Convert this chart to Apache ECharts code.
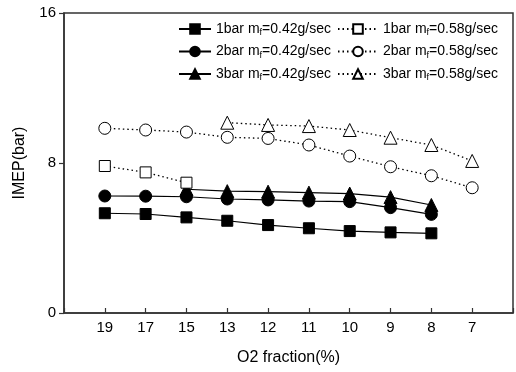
<!DOCTYPE html>
<html lang="en">
<head>
    <meta charset="UTF-8">
    <title>IMEP vs O2 fraction</title>
    <script src="https://cdn.jsdelivr.net/npm/echarts@6/dist/echarts.min.js"></script>
</head>
<body style="margin:0">

<div id="main" style="width: 516px;height:372px;"></div>

</body>
<script>
    // x categories (O2 fraction, %)
    var o2Labels = ['19', '17', '15', '13', '12', '11', '10', '9', '8', '7'];
    var yTicks = [0, 8, 16];

    // m_f = 0.42 g/sec (solid lines, filled markers)
    var bar1Low = [5.32, 5.28, 5.1, 4.92, 4.69, 4.52, 4.37, 4.3, 4.25, null];
    var bar2Low = [6.24, 6.23, 6.2, 6.08, 6.03, 5.97, 5.94, 5.62, 5.26, null];
    var bar3Low = [null, null, 6.6, 6.5, 6.47, 6.42, 6.37, 6.18, 5.76, null];

    // m_f = 0.58 g/sec (dotted lines, open markers)
    var bar1High = [7.84, 7.5, 6.95, null, null, null, null, null, null, null];
    var bar2High = [9.85, 9.76, 9.65, 9.37, 9.31, 8.96, 8.37, 7.8, 7.32, 6.68];
    var bar3High = [null, null, null, 10.15, 10.03, 9.97, 9.76, 9.35, 8.96, 8.11];

    var names = [
        '1bar m{s|f}=0.42g/sec', '2bar m{s|f}=0.42g/sec', '3bar m{s|f}=0.42g/sec',
        '1bar m{s|f}=0.58g/sec', '2bar m{s|f}=0.58g/sec', '3bar m{s|f}=0.58g/sec'
    ];

    function toPairs(arr) {
        var list = [];
        for (var i = 0; i < arr.length; i++) {
            if (arr[i] !== null) list.push([i + 1, arr[i]]);
        }
        return list;
    }

    function makeSeries(name, arr, symbol, size, open) {
        return {
            name: name,
            type: 'line',
            data: toPairs(arr),
            symbol: symbol,
            symbolSize: size,
            lineStyle: {
                color: '#000',
                width: open ? 1.3 : 1.2,
                type: open ? [1.5, 3] : 'solid'
            },
            itemStyle: {
                color: open ? '#fff' : '#000',
                borderColor: '#000',
                borderWidth: 1
            },
            animation: false
        };
    }

    var mychart = echarts.init(document.getElementById('main'));

    var font = 'Liberation Sans, Arial, sans-serif';
    var legendText = {
        color: '#000',
        fontSize: 14,
        fontFamily: font,
        rich: {
            s: {fontSize: 9, padding: [8, 0, 0, 0], fontFamily: font}
        }
    };

    var option = {
        backgroundColor: '#fff',
        grid: {
            left: 64, right: 2, top: 13, bottom: 59,
            show: true,
            borderColor: '#333',
            borderWidth: 1.5
        },
        legend: [
            {
                data: names.slice(0, 3),
                orient: 'vertical',
                left: 173, top: 17,
                itemWidth: 32, itemHeight: 12, itemGap: 7,
                textStyle: legendText
            },
            {
                data: names.slice(3),
                orient: 'vertical',
                left: 332, top: 17,
                itemWidth: 40, itemHeight: 12, itemGap: 7,
                textStyle: legendText
            }
        ],
        xAxis: {
            type: 'value',
            min: 0, max: 11, interval: 1,
            name: 'O2 fraction(%)',
            nameLocation: 'middle',
            nameGap: 37,
            nameTextStyle: {fontSize: 16, color: '#000', fontFamily: font},
            splitLine: {show: false},
            axisLine: {lineStyle: {color: '#333', width: 1.5}},
            axisTick: {inside: true, length: 5, lineStyle: {color: '#333', width: 1.2}},
            axisLabel: {
                color: '#000', fontSize: 15, margin: 7,
                fontFamily: font,
                formatter: function (v) {
                    return o2Labels[v - 1] || '';
                }
            }
        },
        yAxis: {
            type: 'value',
            min: yTicks[0], max: yTicks[2], interval: yTicks[1] - yTicks[0],
            name: 'IMEP(bar)',
            nameLocation: 'middle',
            nameGap: 36,
            nameTextStyle: {fontSize: 16, color: '#000', fontFamily: font},
            splitLine: {show: false},
            axisLine: {show: true, lineStyle: {color: '#333', width: 1.5}},
            axisTick: {show: true, length: 5, lineStyle: {color: '#333', width: 1.2}},
            axisLabel: {color: '#000', fontSize: 15, margin: 8, fontFamily: font}
        },
        series: [
            makeSeries(names[0], bar1Low, 'rect', 11, false),
            makeSeries(names[1], bar2Low, 'circle', 12, false),
            makeSeries(names[2], bar3Low, 'triangle', 13, false),
            makeSeries(names[3], bar1High, 'rect', 11, true),
            makeSeries(names[4], bar2High, 'circle', 12, true),
            makeSeries(names[5], bar3High, 'triangle', 13, true)
        ]
    };

    mychart.setOption(option);
</script>
</html>
